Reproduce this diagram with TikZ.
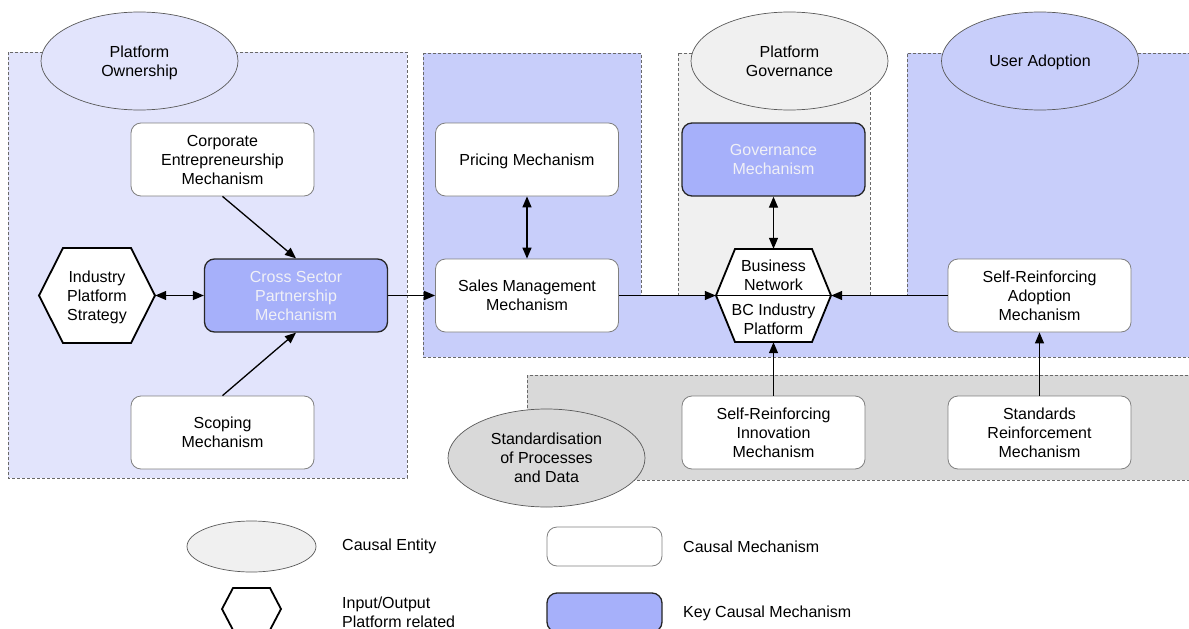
\documentclass[tikz,border=0pt]{standalone}
\usepackage{fontspec}
\setmainfont{Liberation Sans}
\usetikzlibrary{shapes.geometric,arrows.meta}

\definecolor{ownfill}{RGB}{226,228,252}
\definecolor{bandfill}{RGB}{200,206,250}
\definecolor{govfill}{RGB}{240,240,240}
\definecolor{stdfill}{RGB}{217,217,217}
\definecolor{keyfill}{RGB}{166,176,250}
\definecolor{keytext}{RGB}{240,240,246}
\definecolor{zoneline}{RGB}{105,105,105}
\definecolor{boxline}{RGB}{128,128,128}

% hexagon: centre, half width, half height, inset of the top edge
\newcommand{\hexagon}[4]{%
  \filldraw[hexline,shift={(#1)}] (-#2,0) -- (-#2+#4,-#3) -- (#2-#4,-#3) -- (#2,0)
    -- (#2-#4,#3) -- (-#2+#4,#3) -- cycle;}

\tikzset{
  textfix/.style={text depth=-4pt},
  hexline/.style={draw=black, fill=white, line width=1.8pt, line join=miter},
  hexbox/.style={textfix, inner sep=0pt, align=center},
}

\begin{document}
\begin{tikzpicture}[x=1pt,y=-1pt,
    font=\fontsize{16pt}{19pt}\selectfont,
    zone/.style={draw=zoneline, dash pattern=on 3pt off 2pt, line width=0.9pt},
    entity/.style={ellipse, textfix, draw=black!65, line width=0.7pt, minimum width=197pt,
      minimum height=98pt, inner sep=0pt, align=center},
    mech/.style={rectangle, textfix, rounded corners=10pt, draw=boxline, line width=0.8pt, fill=white,
      minimum width=183pt, minimum height=73pt, inner sep=0pt, align=center},
    keymech/.style={mech, draw=black!85, line width=1.3pt, fill=keyfill, text=keytext},
    causal/.style={line width=1.3pt, -{Triangle[length=11pt,width=9pt]}},
    mutual/.style={line width=1.3pt, {Triangle[length=11pt,width=9pt]}-{Triangle[length=11pt,width=9pt]}},
    legendtext/.style={anchor=west, align=left, inner sep=0pt}]

    \useasboundingbox (0,0) rectangle (1189,629);
    \clip (0,0) rectangle (1189,629);

    % zones
    \path[zone, fill=ownfill] (8,52) rectangle (407,478);
    \path[zone, fill=bandfill] (423,53) -- (641,53) -- (641,295.5) -- (907,295.5) -- (907,53)
        -- (1195,53) -- (1195,357) -- (423,357) -- cycle;
    \path[zone, fill=govfill] (678,53) rectangle (870,295.5);
    \path[zone, fill=stdfill] (527,375) rectangle (1195,480);

    \node[entity, fill=ownfill] (own) at (139.5,61) {Platform\\Ownership};
    \node[entity, fill=govfill] (govent) at (789.5,61) {Platform\\Governance};
    \node[entity, fill=bandfill] (adopt) at (1040,61) {User Adoption};
    \node[entity, fill=stdfill] (stdent) at (546.5,458) {Standardisation\\of Processes\\and Data};

    \node[mech] (corp) at (222.5,159.5) {Corporate\\Entrepreneurship\\Mechanism};
    \node[keymech] (csp) at (296,295.5) {Cross Sector\\Partnership\\Mechanism};
    \node[mech] (scope) at (222.5,432.5) {Scoping\\Mechanism};
    \node[mech] (pricing) at (527,159.5) {Pricing Mechanism};
    \node[mech] (sales) at (527,295.5) {Sales Management\\Mechanism};
    \node[keymech] (gov) at (773.5,159.5) {Governance\\Mechanism};
    \node[mech] (sra) at (1039.5,295.5) {Self-Reinforcing\\Adoption\\Mechanism};
    \node[mech] (sri) at (773.5,432.5) {Self-Reinforcing\\Innovation\\Mechanism};
    \node[mech] (stdr) at (1039.5,432.5) {Standards\\Reinforcement\\Mechanism};

    \hexagon{97,295.5}{58}{47.5}{24}
    \node[hexbox, minimum width=116pt, minimum height=95pt] (ips) at (97,295.5) {Industry\\Platform\\Strategy};

    \hexagon{773.5,295.5}{57.5}{46.5}{19}
    \node[hexbox, minimum width=115pt, minimum height=93pt] (hub) at (773.5,295.5) {};
    \node[hexbox] (bn) at (773.5,275.5) {Business\\Network};
    \node[hexbox] (bcip) at (773.5,319) {BC Industry\\Platform};
    \draw[hexline] (hub.west) -- (hub.east);

    \draw[causal] (corp.south) -- (csp.north);
    \draw[causal] (scope.north) -- (csp.south);
    \draw[mutual] (ips.east) -- (csp.west);
    \draw[causal] (csp.east) -- (sales.west);
    \draw[mutual] (pricing.south) -- (sales.north);
    \draw[causal] (sales.east) -- (hub.west);
    \draw[mutual] (gov.south) -- (hub.north);
    \draw[causal] (sra.west) -- (hub.east);
    \draw[causal] (sri.north) -- (hub.south);
    \draw[causal] (stdr.north) -- (sra.south);

    % legend
    \node[entity, fill=govfill, minimum width=129pt, minimum height=51pt] (lgent) at (251.5,546.5) {};
    \node[legendtext] (lgenttxt) at (342,546.5) {Causal Entity};
    \hexagon{251.5,609}{29.5}{21}{11}
    \node[hexbox, minimum width=59pt, minimum height=42pt] (lghex) at (251.5,609) {};
    \node[legendtext] (lghextxt) at (342,612) {Input/Output\\Platform related};
    \node[mech, minimum width=115pt, minimum height=39pt] (lgmech) at (604.5,546.5) {};
    \node[legendtext] (lgmechtxt) at (683,546.5) {Causal Mechanism};
    \node[keymech, minimum width=115pt, minimum height=39pt] (lgkey) at (604.5,612.5) {};
    \node[legendtext] (lgkeytxt) at (683,613) {Key Causal Mechanism};
\end{tikzpicture}
\end{document}
